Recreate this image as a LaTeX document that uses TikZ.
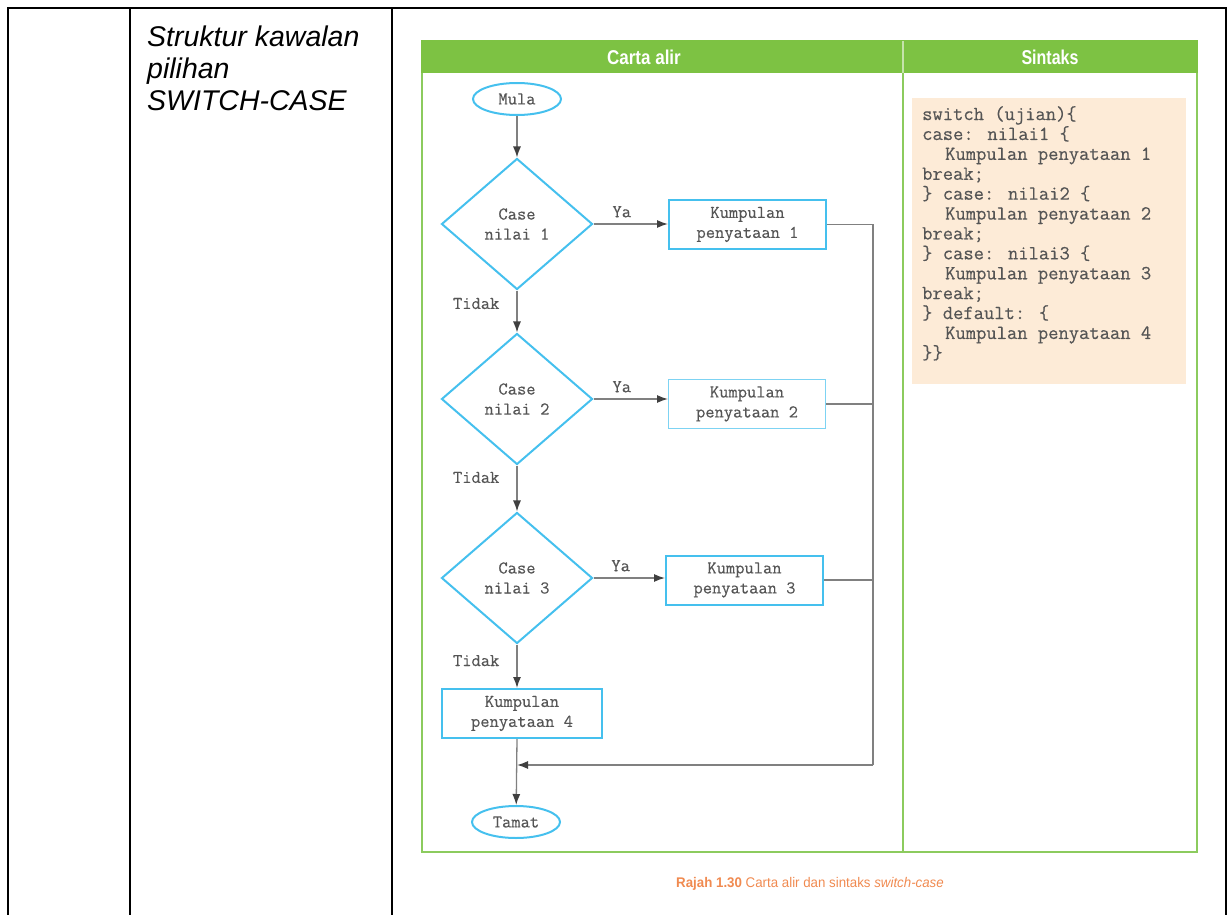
\documentclass[tikz,border=0pt]{standalone}
\usepackage{fontspec}
\setmainfont{Liberation Serif}
\newfontfamily\flowmono[FakeBold=0.35]{Latin Modern Mono}
\newfontfamily\labelsans{Liberation Sans}
\usetikzlibrary{shapes.geometric,arrows.meta}

\definecolor{flowcyan}{HTML}{45C0EE}
\definecolor{hdrgreen}{HTML}{7DC243}
\definecolor{framegreen}{HTML}{8CCB5E}
\definecolor{peach}{HTML}{FDEBD7}
\definecolor{inkgray}{HTML}{555555}
\definecolor{linegray}{HTML}{808080}
\definecolor{caporange}{HTML}{F08A50}

\newcommand\flowfont{\flowmono\fontsize{18}{20}\selectfont}

\tikzset{
  terminal/.style={ellipse, draw=flowcyan, line width=2pt, minimum width=88pt,
    minimum height=32pt, inner sep=0pt, text=inkgray, font=\flowfont},
  decision/.style={diamond, draw=flowcyan, line width=2pt, minimum width=151pt,
    minimum height=131pt, inner sep=0pt, align=center, text=inkgray, font=\flowfont},
  process/.style={rectangle, draw=flowcyan, line width=2pt, minimum width=157pt,
    minimum height=49pt, inner sep=0pt, align=center, text=inkgray, font=\flowfont},
  flow/.style={draw=linegray, line width=1.3pt,
    -{Latex[length=11pt,width=8pt,color=black!75]}},
  link/.style={draw=linegray, line width=1.3pt},
  branch/.style={text=inkgray, font=\flowfont, inner sep=0pt},
  rule/.style={draw=black, line width=2pt},
}

\begin{document}
\begin{tikzpicture}[x=1pt,y=-1pt]
\useasboundingbox (0,0) rectangle (1227,915);

% outer table rules
\draw[rule] (7,8) -- (1227,8);
\foreach \cx in {8,130,392,1226} \draw[rule] (\cx,8) -- (\cx,915);

% row title
\node[anchor=north west, inner sep=0pt, align=left,
      font=\labelsans\itshape\fontsize{28.5}{32}\selectfont] (title) at (147,26)
  {Struktur kawalan\\pilihan\\SWITCH-CASE};

% figure frame with header band
\fill[hdrgreen] (421,40) rectangle (1198,73);
\draw[white!55!hdrgreen, line width=1.5pt] (903,41) -- (903,73);
\draw[framegreen, line width=2pt] (422,73) -- (422,852) -- (1197,852) -- (1197,73);
\draw[framegreen, line width=2pt] (903,73) -- (903,852);
\node[text=white, font=\labelsans\bfseries\fontsize{20}{22}\selectfont] (hflow) at (644,57)
  {\scalebox{0.85}[1]{Carta alir}};
\node[text=white, font=\labelsans\bfseries\fontsize{20}{22}\selectfont] (hsyntax) at (1050,57)
  {\scalebox{0.8}[1]{Sintaks}};

% syntax panel
\fill[peach] (912,98) rectangle (1186,384);
\node[anchor=north west, inner sep=0pt, align=left, text=inkgray,
      font=\flowmono\fontsize{20}{19.9}\selectfont] (code) at (922,106)
  {switch (ujian)\{\\
   case: nilai1 \{\\
   \hspace*{23pt}Kumpulan penyataan 1\\
   break;\\
   \} case: nilai2 \{\\
   \hspace*{23pt}Kumpulan penyataan 2\\
   break;\\
   \} case: nilai3 \{\\
   \hspace*{23pt}Kumpulan penyataan 3\\
   break;\\
   \} default: \{\\
   \hspace*{23pt}Kumpulan penyataan 4\\
   \}\}};

% flowchart
\node[terminal] (start) at (517,99) {Mula};
\node[decision] (d1) at (517,224) {Case\\nilai 1};
\node[process]  (p1) at (747.5,224.5) {Kumpulan\\penyataan 1};
\node[decision] (d2) at (517,399) {Case\\nilai 2};
\node[process, line width=1pt, draw=flowcyan!70] (p2) at (747,404) {Kumpulan\\penyataan 2};
\node[decision] (d3) at (517,578) {Case\\nilai 3};
\node[process]  (p3) at (744.5,580) {Kumpulan\\penyataan 3};
\node[process, minimum width=160pt] (p4) at (522,713.5) {Kumpulan\\penyataan 4};
\node[terminal] (end) at (516,822) {Tamat};

\coordinate (rail) at (873,765);
\coordinate (merge) at (517,765);

\draw[flow] (start) -- (d1);
\draw[flow] (d1.east) -- node[branch, above=6pt, pos=0.38] (ya1) {Ya} (d1.east -| p1.west);
\draw[flow] (d1) -- node[branch, left=17pt, pos=0.31] (no1) {Tidak} (d2);
\draw[flow] (d2.east) -- node[branch, above=6pt, pos=0.38] (ya2) {Ya} (d2.east -| p2.west);
\draw[flow] (d2) -- node[branch, left=17pt, pos=0.26] (no2) {Tidak} (d3);
\draw[flow] (d3.east) -- node[branch, above=6pt, pos=0.38] (ya3) {Ya} (d3.east -| p3.west);
\draw[flow] (d3) -- node[branch, left=17pt, pos=0.37] (no3) {Tidak} (p4.north -| d3.south);

\draw[link] (p1.east) -| (rail);
\draw[link] (p2.east) -- (p2.east -| rail);
\draw[link] (p3.east) -- (p3.east -| rail);
\draw[flow] (rail) -- (merge);
\draw[flow] (p4.south -| start) -- (end);

% caption
\node[text=caporange, font=\labelsans\fontsize{14}{16}\selectfont] (caption) at (810,884)
  {\scalebox{0.95}[1]{\textbf{Rajah 1.30} Carta alir dan sintaks \textit{switch-case}}};
\end{tikzpicture}
\end{document}
